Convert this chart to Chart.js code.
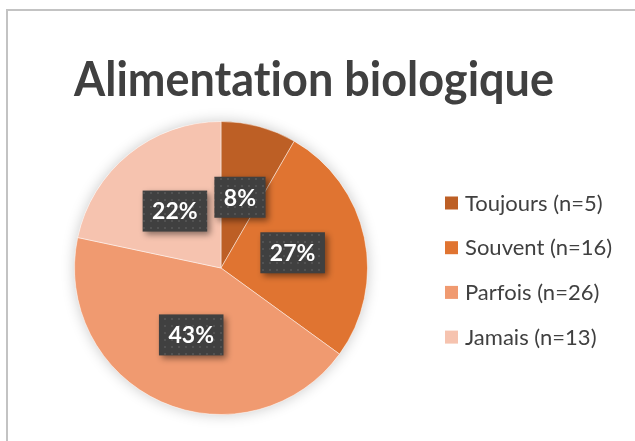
<!DOCTYPE html>
<html>
<head>
<meta charset="utf-8">
<script src="https://cdn.jsdelivr.net/npm/chart.js@4"></script>
<style>
  html, body { margin: 0; padding: 0; background: #fff; overflow: hidden; }
  #wrap { position: relative; width: 635px; height: 441px; }
  #frame { position: absolute; left: 6px; top: 9px; width: 700px; height: 500px;
           border-left: 2px solid #c3c3c3; border-top: 2px solid #c3c3c3; }
  #chart { position: absolute; left: 0; top: 0; }
</style>
</head>
<body>
<div id="wrap">
  <div id="frame"></div>
  <canvas id="chart" width="635" height="441"></canvas>
</div>
<script>
const title = "Alimentation biologique";
const categories = ["Toujours", "Souvent", "Parfois", "Jamais"];
const counts = [5, 16, 26, 13];
const percentLabels = ["8%", "27%", "43%", "22%"];
const colors = ["#bd5f25", "#e07431", "#f09a70", "#f6c3af"];

const ctx = document.getElementById("chart").getContext("2d");

// dotted fill for the label boxes
function makePattern() {
    const p = document.createElement("canvas");
    p.width = 7;
    p.height = 7;
    const pc = p.getContext("2d");
    pc.fillStyle = "#404040";
    pc.fillRect(0, 0, 7, 7);
    pc.fillStyle = "#525252";
    pc.fillRect(3, 3, 2, 2);
    return ctx.createPattern(p, "repeat");
}
const boxFill = makePattern();

const pieShadow = {
    id: "pieShadow",
    beforeDatasetsDraw(chart) {
        const arc = chart.getDatasetMeta(0).data[0];
        if (!arc) return;
        const c = chart.ctx;
        c.save();
        c.shadowColor = "rgba(0,0,0,0.22)";
        c.shadowBlur = 14;
        c.fillStyle = "#fff";
        c.beginPath();
        c.arc(arc.x, arc.y, arc.outerRadius, 0, Math.PI * 2);
        c.fill();
        c.restore();
    }
};

const extras = {
    id: "extras",
    afterDraw(chart) {
        const c = chart.ctx;
        c.textRendering = "optimizeSpeed"; // no "ti" ligature
        c.letterSpacing = "0.01px";

        // title, squeezed to the width of the original
        c.save();
        c.font = "bold 48px Lato";
        c.fillStyle = "#404040";
        c.textBaseline = "alphabetic";
        const tw = c.measureText(title).width;
        const sx = 480 / tw;
        c.translate(74, 96);
        c.scale(sx, 1);
        c.fillText(title, 0, 0);
        c.restore();

        // legend
        c.save();
        c.font = "22px Lato";
        c.textBaseline = "alphabetic";
        categories.forEach((cat, i) => {
            const y = 203 + i * 44.7;
            c.fillStyle = colors[i];
            c.fillRect(445, y - 6.5, 13, 13);
            c.fillStyle = "#404040";
            c.fillText(cat + " (n=" + counts[i] + ")", 465, y + 7.5);
        });
        c.restore();

        // data labels
        const arcs = chart.getDatasetMeta(0).data;
        c.save();
        c.font = "bold 23px Lato";
        arcs.forEach((arc, i) => {
            const pos = arc.tooltipPosition();
            const txt = percentLabels[i];
            const w = c.measureText(txt).width + 19;
            const h = 41;
            c.save();
            c.shadowColor = "rgba(0,0,0,0.45)";
            c.shadowBlur = 6;
            c.shadowOffsetX = 3;
            c.shadowOffsetY = 3;
            c.fillStyle = boxFill;
            c.fillRect(pos.x - w / 2, pos.y - h / 2, w, h);
            c.restore();
            c.fillStyle = "#ffffff";
            c.textAlign = "center";
            c.textBaseline = "middle";
            c.fillText(txt, pos.x, pos.y + 1);
        });
        c.restore();
    }
};

new Chart(ctx, {
    type: "pie",
    data: {
        labels: categories,
        datasets: [{
            data: counts,
            backgroundColor: colors,
            borderColor: "rgba(255,255,255,0.45)",
            borderWidth: 1
        }]
    },
    options: {
        responsive: false,
        animation: false,
        layout: {
            padding: { left: 74, top: 121, right: 267, bottom: 26 }
        },
        plugins: {
            legend: { display: false },
            title: { display: false },
            tooltip: { enabled: false }
        }
    },
    plugins: [pieShadow, extras]
});
</script>
</body>
</html>
